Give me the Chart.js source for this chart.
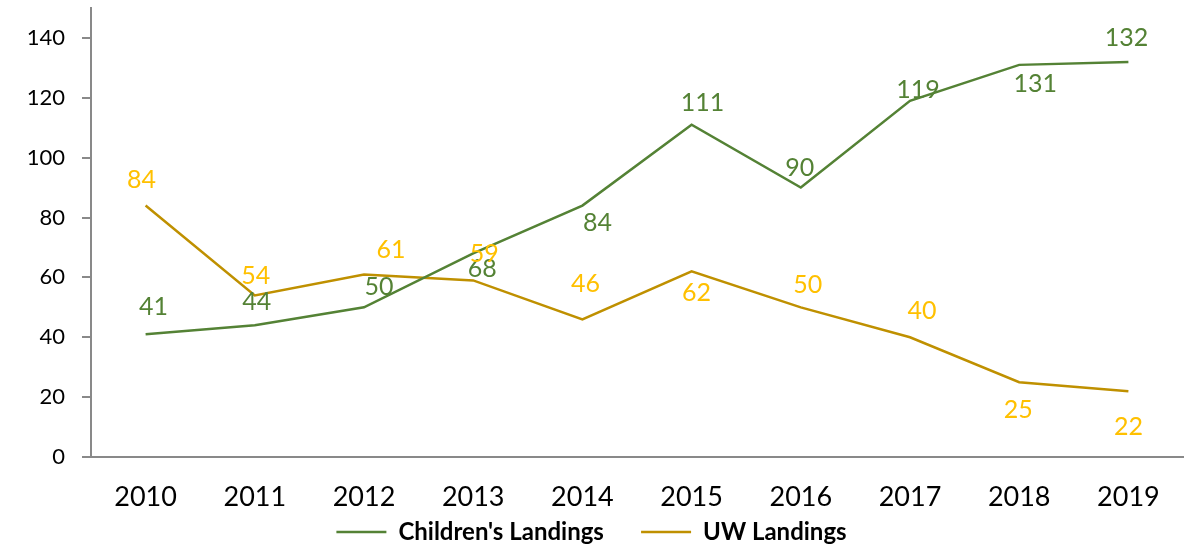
<!DOCTYPE html>
<html>
<head>
<meta charset="utf-8">
<script src="https://cdn.jsdelivr.net/npm/chart.js@4"></script>
<style>
  html, body { margin: 0; padding: 0; background: #ffffff; }
  #wrap { width: 1204px; height: 547px; }
</style>
</head>
<body>
<div id="wrap"><canvas id="landingsChart" width="1204" height="547"></canvas></div>
<script>
// Chart data
const years = ['2010', '2011', '2012', '2013', '2014', '2015', '2016', '2017', '2018', '2019'];
const childrensLandings = [41, 44, 50, 68, 84, 111, 90, 119, 131, 132];
const uwLandings = [84, 54, 61, 59, 46, 62, 50, 40, 25, 22];
const yTicks = [0, 20, 40, 60, 80, 100, 120, 140];

// Where each value label sits relative to its point (dx, dy in px)
const childrensLabelPos = [[8, -27], [2, -23], [15, -20], [9, 15], [15, 17], [11, -22], [-1, -20], [8, -11], [16, 19], [-2, -24]];
const uwLabelPos = [[-4, -26], [1, -19], [27, -24], [11, -26], [3, -35], [5, 22], [7, -22], [12, -26], [-1, 28], [0, 36]];

const FONT = 'Lato, "Open Sans", sans-serif';
const AXIS_GREY = '#898989';

/**
 * Draws the value labels next to each point
 */
const valueLabels = {
    id: 'valueLabels',
    afterDatasetsDraw(chart) {
        const ctx = chart.ctx;
        ctx.save();
        ctx.font = '25px ' + FONT;
        ctx.textAlign = 'center';
        ctx.textBaseline = 'middle';
        chart.data.datasets.forEach((ds, i) => {
            const meta = chart.getDatasetMeta(i);
            ctx.fillStyle = ds.labelColor;
            meta.data.forEach((pt, j) => {
                const off = ds.labelPos[j];
                ctx.fillText(String(ds.data[j]), pt.x + off[0], pt.y + off[1]);
            });
        });
        ctx.restore();
    }
};

new Chart(document.getElementById('landingsChart'), {
    type: 'line',
    data: {
        labels: years,
        datasets: [
            {
                label: "Children's Landings",
                data: childrensLandings,
                borderColor: '#548235',
                backgroundColor: '#548235',
                borderWidth: 2.5,
                pointRadius: 0,
                tension: 0,
                labelColor: '#548235',
                labelPos: childrensLabelPos
            },
            {
                label: 'UW Landings',
                data: uwLandings,
                borderColor: '#BF9000',
                backgroundColor: '#BF9000',
                borderWidth: 2.5,
                pointRadius: 0,
                tension: 0,
                labelColor: '#FFC000',
                labelPos: uwLabelPos
            }
        ]
    },
    options: {
        responsive: false,
        animation: false,
        layout: { autoPadding: false, padding: { top: 8, right: 21, left: 0, bottom: -7 } },
        plugins: {
            tooltip: { enabled: false },
            legend: {
                position: 'bottom',
                labels: {
                    color: '#000000',
                    font: { family: FONT, size: 24, weight: 'bold' },
                    usePointStyle: true,
                    pointStyle: 'line',
                    pointStyleWidth: 50,
                    padding: 8,
                    generateLabels(chart) {
                        const items = Chart.defaults.plugins.legend.labels.generateLabels(chart);
                        // a little extra room between the two entries
                        items.forEach((item, i) => {
                            if (i < items.length - 1) item.text += '     ';
                        });
                        return items;
                    }
                }
            }
        },
        scales: {
            x: {
                offset: true,
                grid: { display: false, drawTicks: false },
                border: { color: AXIS_GREY, width: 2 },
                ticks: {
                    color: '#000000',
                    font: { family: FONT, size: 27 },
                    padding: 24,
                    maxRotation: 0
                },
                afterFit(scale) {
                    scale.height = 55;
                    scale.paddingLeft = 0;
                    scale.paddingRight = 0;
                }
            },
            y: {
                min: 0,
                max: 150,
                grid: { drawOnChartArea: false, drawTicks: true, tickLength: 9, color: AXIS_GREY, lineWidth: 2 },
                border: { color: AXIS_GREY, width: 2 },
                ticks: {
                    stepSize: 20,
                    color: '#000000',
                    font: { family: FONT, size: 22 },
                    padding: 17
                },
                afterBuildTicks(scale) {
                    scale.ticks = yTicks.map(v => ({ value: v }));
                },
                afterFit(scale) {
                    scale.width = 91;
                    scale.paddingTop = 0;
                    scale.paddingBottom = 0;
                }
            }
        }
    },
    plugins: [valueLabels]
});
</script>
</body>
</html>
